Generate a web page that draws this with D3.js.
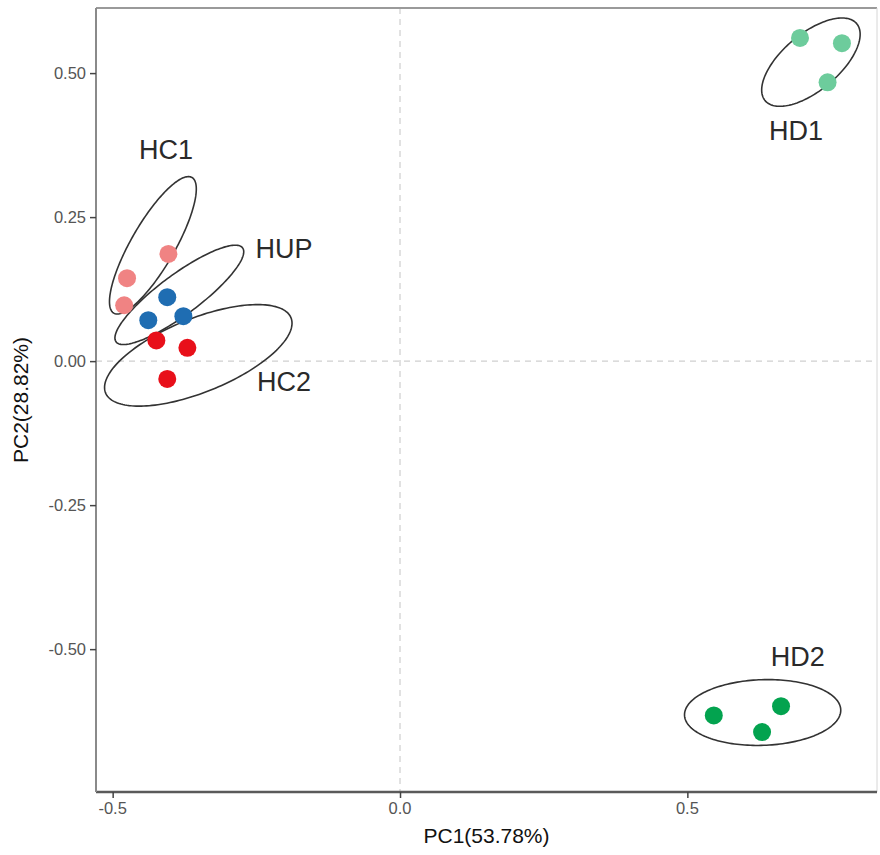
<!DOCTYPE html>
<html>
<head>
<meta charset="utf-8">
<script src="https://cdn.jsdelivr.net/npm/d3@7"></script>
<style>
  html, body { margin: 0; padding: 0; background: #fff; }
  svg { display: block; }
</style>
</head>
<body>
<svg id="chart" width="880" height="855"></svg>
<script>
// ---- data ----
const groups = ["HC1", "HUP", "HC2", "HD1", "HD2"];
const groupColors = ["#f08383", "#1f6db2", "#e8101a", "#6dcc9c", "#03a34f"];
const pointGroup = ["HC1","HC1","HC1","HUP","HUP","HUP","HC2","HC2","HC2","HD1","HD1","HD1","HD2","HD2","HD2"];
const pc1 = [-0.403,-0.475,-0.480, -0.405,-0.438,-0.377, -0.424,-0.370,-0.405, 0.696,0.769,0.744, 0.546,0.663,0.630];
const pc2 = [ 0.186, 0.144, 0.097,  0.111, 0.071, 0.078,  0.036, 0.023,-0.031, 0.561,0.552,0.484, -0.615,-0.599,-0.644];
// ellipse parameters (data units): centre, semi-axes, rotation (deg)
const ellCx = [-0.430, -0.384, -0.351, 0.715, 0.631];
const ellCy = [ 0.201,  0.115,  0.010, 0.519, -0.610];
const ellA  = [ 0.136,  0.137,  0.174, 0.104, 0.136];
const ellB  = [ 0.038,  0.035,  0.064, 0.049, 0.057];
const ellAngle = [60, 36.5, 22, 40, 2];
// group label positions (data units)
const labelX = [-0.407, -0.202, -0.202, 0.689, 0.692];
const labelY = [ 0.367,  0.195, -0.036, 0.399, -0.513];
const xTicks = [-0.5, 0, 0.5];
const xTickLabels = ["-0.5", "0.0", "0.5"];
const yTicks = [-0.5, -0.25, 0, 0.25, 0.5];
const yTickLabels = ["-0.50", "-0.25", "0.00", "0.25", "0.50"];
const xTitle = "PC1(53.78%)";
const yTitle = "PC2(28.82%)";
const xDomain = [-0.529, 0.83];
const yDomain = [-0.748, 0.613];

// ---- layout ----
const svg = d3.select("#chart");
const L = 96, R = 877, T = 8, B = 792;
const x = d3.scaleLinear().domain(xDomain).range([L, R]);
const y = d3.scaleLinear().domain(yDomain).range([B, T]);
const color = d3.scaleOrdinal().domain(groups).range(groupColors);
const font = "'Liberation Sans', Arial, Helvetica, sans-serif";

// reference lines
svg.append("line").attr("x1", x(0)).attr("x2", x(0)).attr("y1", T).attr("y2", B)
  .attr("stroke", "#cfcfcf").attr("stroke-width", 1.2).attr("stroke-dasharray", "6,5");
svg.append("line").attr("x1", L).attr("x2", R).attr("y1", y(0)).attr("y2", y(0))
  .attr("stroke", "#cfcfcf").attr("stroke-width", 1.2).attr("stroke-dasharray", "6,5");

// panel border (top/right)
svg.append("line").attr("x1", L).attr("x2", R).attr("y1", T).attr("y2", T)
  .attr("stroke", "#9a9a9a").attr("stroke-width", 2);
svg.append("line").attr("x1", R).attr("x2", R).attr("y1", T).attr("y2", B)
  .attr("stroke", "#d6d6d6").attr("stroke-width", 1);

// ellipses
const ellData = groups.map((g, i) => ({ g, cx: ellCx[i], cy: ellCy[i], a: ellA[i], b: ellB[i], ang: ellAngle[i] }));
const line = d3.line().x(d => x(d[0])).y(d => y(d[1])).curve(d3.curveLinearClosed);
svg.append("g").selectAll("path").data(ellData).join("path")
  .attr("d", e => {
    const th = e.ang * Math.PI / 180;
    const pts = d3.range(0, 360, 2).map(t => {
      const r = t * Math.PI / 180;
      const u = e.a * Math.cos(r), v = e.b * Math.sin(r);
      return [e.cx + u * Math.cos(th) - v * Math.sin(th), e.cy + u * Math.sin(th) + v * Math.cos(th)];
    });
    return line(pts);
  })
  .attr("fill", "none").attr("stroke", "#333").attr("stroke-width", 1.6);

// points
const pts = pc1.map((v, i) => ({ x: v, y: pc2[i], g: pointGroup[i] }));
svg.append("g").selectAll("circle").data(pts).join("circle")
  .attr("cx", d => x(d.x)).attr("cy", d => y(d.y)).attr("r", 9)
  .attr("fill", d => color(d.g));

// group labels
svg.append("g").selectAll("text").data(groups).join("text")
  .attr("x", (g, i) => x(labelX[i])).attr("y", (g, i) => y(labelY[i]))
  .attr("text-anchor", "middle").attr("dominant-baseline", "central")
  .attr("font-family", font).attr("font-size", 27).attr("fill", "#2a2a2a")
  .text(g => g);

// axes (tick marks from d3 axes, labels drawn from the label arrays)
const xAxis = d3.axisBottom(x).tickValues(xTicks).tickFormat("").tickSize(6);
const yAxis = d3.axisLeft(y).tickValues(yTicks).tickFormat("").tickSize(6);
const gx = svg.append("g").attr("transform", `translate(0,${B})`).call(xAxis);
const gy = svg.append("g").attr("transform", `translate(${L},0)`).call(yAxis);
gx.select(".domain").attr("stroke", "#5a5a5a").attr("stroke-width", 2.6).attr("d", `M${L},0H${R}`);
gy.select(".domain").attr("stroke", "#8a8a8a").attr("stroke-width", 2).attr("d", `M0,${T}V${B}`);
[gx, gy].forEach(g => {
  g.selectAll(".tick line").attr("stroke", "#444").attr("stroke-width", 1.5);
  g.selectAll(".tick text").remove();
});
svg.append("g").selectAll("text").data(xTickLabels).join("text")
  .attr("x", (d, i) => x(xTicks[i])).attr("y", B + 10)
  .attr("text-anchor", "middle").attr("dominant-baseline", "hanging")
  .attr("font-family", font).attr("font-size", 16.5).attr("fill", "#555")
  .text(d => d);
svg.append("g").selectAll("text").data(yTickLabels).join("text")
  .attr("x", L - 10).attr("y", (d, i) => y(yTicks[i]))
  .attr("text-anchor", "end").attr("dominant-baseline", "central")
  .attr("font-family", font).attr("font-size", 16.5).attr("fill", "#555")
  .text(d => d);

// titles
svg.append("text").attr("x", (L + R) / 2).attr("y", 835)
  .attr("text-anchor", "middle").attr("dominant-baseline", "central")
  .attr("font-family", font).attr("font-size", 21).attr("fill", "#111").text(xTitle);
svg.append("text").attr("transform", `translate(20,${(T + B) / 2}) rotate(-90)`)
  .attr("text-anchor", "middle").attr("dominant-baseline", "central")
  .attr("font-family", font).attr("font-size", 21).attr("fill", "#111").text(yTitle);
</script>
</body>
</html>
